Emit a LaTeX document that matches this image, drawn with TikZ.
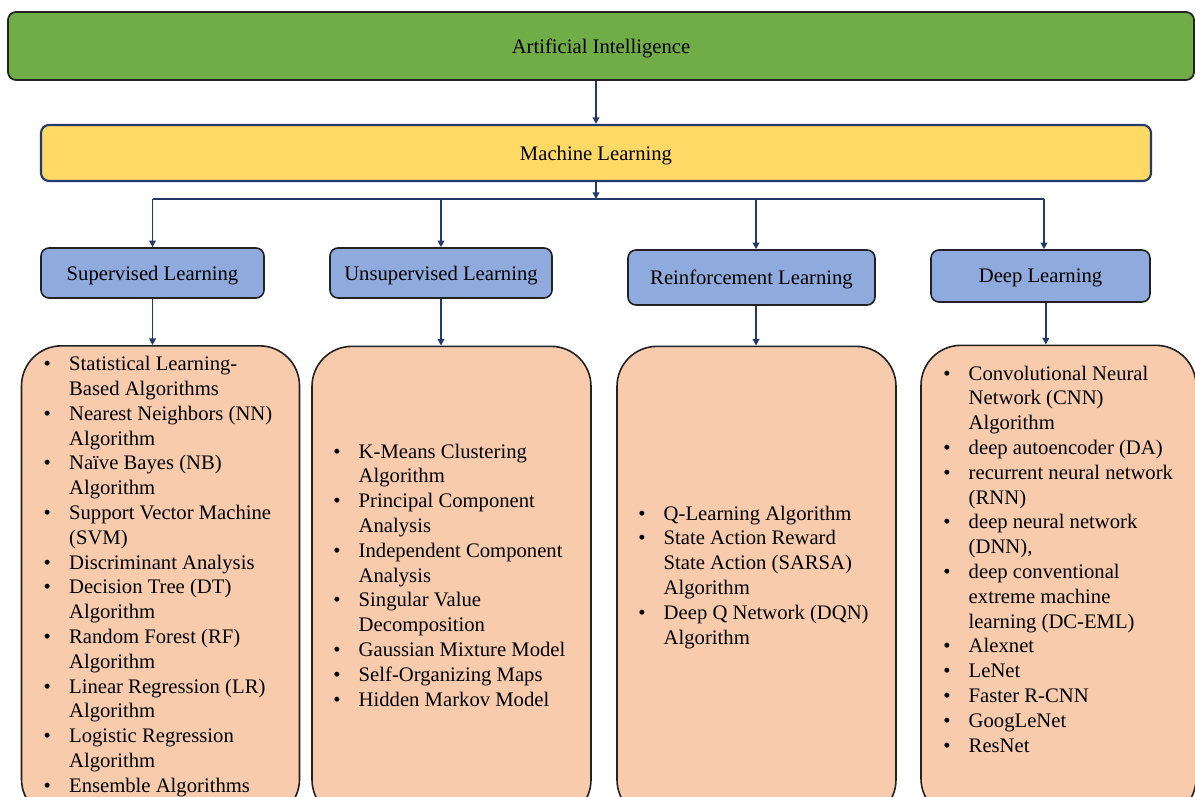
\documentclass[tikz,border=0pt]{standalone}
\usepackage{fontspec}
\setmainfont{Liberation Serif}
\usetikzlibrary{arrows.meta}
\definecolor{aigreen}{HTML}{70AD47}
\definecolor{mlyellow}{HTML}{FFD966}
\definecolor{catblue}{HTML}{8FAADC}
\definecolor{listpeach}{HTML}{F8CBAD}
\definecolor{navy}{HTML}{213A6B}
\definecolor{edge}{HTML}{222222}
\newcommand{\listfont}{\fontsize{15.5}{18.6}\selectfont}
\begin{document}
\begin{tikzpicture}[x=0.75pt,y=-0.75pt,
  every node/.style={font=\listfont, text=black},
  topbox/.style={draw=edge, line width=1.3pt, rounded corners=6pt, fill=aigreen,
    minimum width=889.5pt, minimum height=51pt, inner sep=0pt, text depth=0pt},
  mlbox/.style={draw=navy, line width=1.6pt, rounded corners=6pt, fill=mlyellow,
    minimum width=832.5pt, minimum height=42pt, inner sep=0pt, text depth=0pt},
  catbox/.style={draw=edge, line width=1.2pt, rounded corners=6pt, fill=catblue,
    inner sep=0pt, text depth=0pt},
  listbox/.style={draw=edge, line width=1.2pt, rounded corners=30pt, fill=listpeach,
    minimum width=208.5pt, minimum height=355pt, inner sep=0pt},
  listtext/.style={anchor=base west, inner sep=0pt, align=left},
  arr/.style={draw=navy, line width=1.4pt, -{Triangle[length=5pt,width=5pt]}},
  bus/.style={draw=navy, line width=1.4pt}]
\useasboundingbox (0,0) rectangle (1195,796);
\clip (0,0) rectangle (1195,796);

% top levels
\node[topbox] (ai) at (601,46) {Artificial Intelligence};
\node[mlbox] (ml) at (596,153) {Machine Learning};

% learning categories
\node[catbox, minimum width=167.25pt, minimum height=37.5pt] (sup) at (152.5,273) {Supervised Learning};
\node[catbox, minimum width=166.5pt, minimum height=37.5pt] (uns) at (441,273) {Unsupervised Learning};
\node[catbox, minimum width=185.25pt, minimum height=41.25pt] (rei) at (751.5,277.5) {Reinforcement Learning};
\node[catbox, minimum width=164.25pt, minimum height=39pt] (dee) at (1040.5,276) {Deep Learning};

% algorithm lists (boxes run past the lower edge)
\node[listbox] (supL) at (160.5,582.5) {};
\node[listbox, minimum width=209.25pt] (unsL) at (451.5,583) {};
\node[listbox, minimum width=209.25pt] (reiL) at (756.5,583) {};
\node[listbox, minimum width=206.25pt] (deeL) at (1058.5,582) {};

\node[listtext] (supT) at (43.4,370.6) {\begin{tabular}[t]{@{}p{19.1pt}@{}l@{}}
\textbullet & Statistical Learning-\\ & Based Algorithms\\
\textbullet & Nearest Neighbors (NN)\\ & Algorithm\\
\textbullet & Naïve Bayes (NB)\\ & Algorithm\\
\textbullet & Support Vector Machine\\ & (SVM)\\
\textbullet & Discriminant Analysis\\
\textbullet & Decision Tree (DT)\\ & Algorithm\\
\textbullet & Random Forest (RF)\\ & Algorithm\\
\textbullet & Linear Regression (LR)\\ & Algorithm\\
\textbullet & Logistic Regression\\ & Algorithm\\
\textbullet & Ensemble Algorithms
\end{tabular}};

\node[listtext] (unsT) at (333,458) {\begin{tabular}[t]{@{}p{19.1pt}@{}l@{}}
\textbullet & K-Means Clustering\\ & Algorithm\\
\textbullet & Principal Component\\ & Analysis\\
\textbullet & Independent Component\\ & Analysis\\
\textbullet & Singular Value\\ & Decomposition\\
\textbullet & Gaussian Mixture Model\\
\textbullet & Self-Organizing Maps\\
\textbullet & Hidden Markov Model
\end{tabular}};

\node[listtext] (reiT) at (638,520) {\begin{tabular}[t]{@{}p{19.1pt}@{}l@{}}
\textbullet & Q-Learning Algorithm\\
\textbullet & State Action Reward\\ & State Action (SARSA)\\ & Algorithm\\
\textbullet & Deep Q Network (DQN)\\ & Algorithm
\end{tabular}};

\node[listtext] (deeT) at (943,380) {\begin{tabular}[t]{@{}p{19.1pt}@{}l@{}}
\textbullet & Convolutional Neural\\ & Network (CNN)\\ & Algorithm\\
\textbullet & deep autoencoder (DA)\\
\textbullet & recurrent neural network\\ & (RNN)\\
\textbullet & deep neural network\\ & (DNN),\\
\textbullet & deep conventional\\ & extreme machine\\ & learning (DC-EML)\\
\textbullet & Alexnet\\
\textbullet & LeNet\\
\textbullet & Faster R-CNN\\
\textbullet & GoogLeNet\\
\textbullet & ResNet
\end{tabular}};

% connectors
\coordinate (hub) at (596,199);
\draw[arr] (ai.south -| ml.north) -- (ml.north);
\draw[arr] (ml.south) -- (hub);
\draw[bus] (sup.north |- hub) -- ([xshift=2.6pt]dee.north |- hub);
\draw[arr] (sup.north |- hub) -- (sup.north);
\draw[arr] (uns.north |- hub) -- (uns.north);
\draw[arr] ([xshift=3.4pt]rei.north |- hub) -- ([xshift=3.4pt]rei.north);
\draw[arr] ([xshift=2.6pt]dee.north |- hub) -- ([xshift=2.6pt]dee.north);

\draw[arr] (sup.south) -- (sup.south |- supL.north);
\draw[arr] (uns.south) -- (uns.south |- unsL.north);
\draw[arr] ([xshift=3.4pt]rei.south) -- ([xshift=3.4pt]rei.south |- reiL.north);
\draw[arr] ([xshift=4pt]dee.south) -- ([xshift=4pt]dee.south |- deeL.north);
\end{tikzpicture}
\end{document}
